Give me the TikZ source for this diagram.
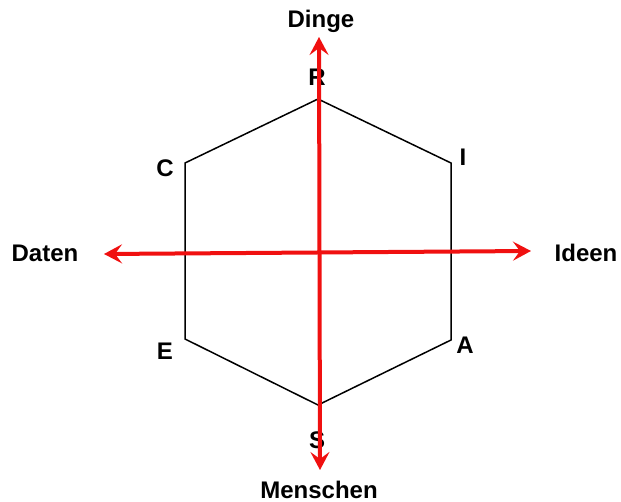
\documentclass[tikz,border=0pt]{standalone}
\usepackage{fontspec}
\setmainfont{Liberation Sans}
\usetikzlibrary{arrows.meta}
\definecolor{AxisRed}{HTML}{F01010}
\definecolor{HexBlack}{HTML}{000000}
\tikzset{
  lbl/.style={anchor=base,inner sep=0pt,font=\bfseries\fontsize{24}{27}\selectfont},
  axis/.style={AxisRed,line width=4pt,{Stealth[length=18pt,width=19pt,inset=7pt]}-{Stealth[length=18pt,width=19pt,inset=7pt]}}
}

\begin{document}
\begin{tikzpicture}[x=1pt,y=-1pt]
\path[use as bounding box] (0,0) rectangle (621,502);
\fill[white] (0,0) rectangle (621,502);
% hexagon corners
\coordinate (R) at (318,99);
\coordinate (I) at (451,163);
\coordinate (A) at (451,340);
\coordinate (S) at (318,405);
\coordinate (E) at (185,339);
\coordinate (C) at (185,163);
\draw[HexBlack,line width=1.5pt,line join=miter] (R) -- (I) -- (A) -- (S) -- (E) -- (C) -- cycle;
% corner letters
\node[lbl] (lR) at (317,86) {R};
\node[lbl] (lI) at (463,166) {I};
\node[lbl] (lA) at (465,354) {A};
\node[lbl] (lS) at (317,448) {S};
\node[lbl] (lE) at (165,360) {E};
\node[lbl] (lC) at (165,177) {C};
% axes
\coordinate (top) at (319,37);
\coordinate (bottom) at (320,470);
\coordinate (left) at (104,254);
\coordinate (right) at (531,251);
\draw[axis] (bottom) -- (top);
\draw[axis] (left) -- (right);
\node[lbl] (dinge) at (321,28) {Dinge};
\node[lbl] (menschen) at (319,498) {Menschen};
\node[lbl] (daten) at (45,262) {Daten};
\node[lbl] (ideen) at (586,262) {Ideen};
\end{tikzpicture}
\end{document}
